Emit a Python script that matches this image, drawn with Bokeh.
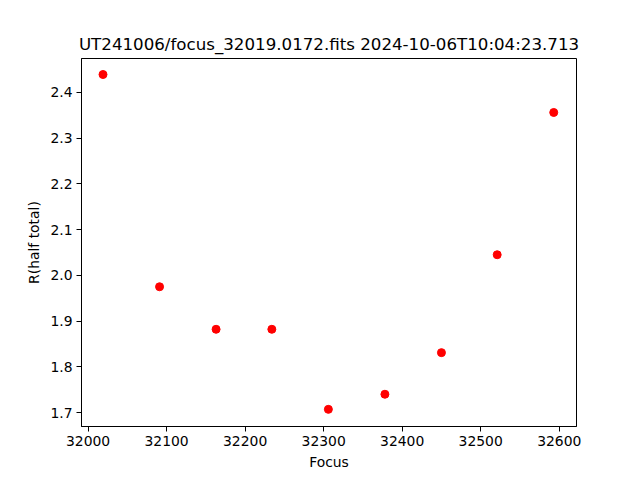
from bokeh.plotting import figure
from bokeh.models import Range1d, FixedTicker, NumeralTickFormatter
from bokeh.embed import file_html
from bokeh.resources import INLINE

focus = [32019, 32091, 32163, 32234, 32306, 32378, 32450, 32521, 32593]
r_half = [2.439, 1.975, 1.882, 1.882, 1.707, 1.740, 1.831, 2.045, 2.356]
x_ticks = [32000, 32100, 32200, 32300, 32400, 32500, 32600]
y_ticks = [1.7, 1.8, 1.9, 2.0, 2.1, 2.2, 2.3, 2.4]

FONT = "DejaVu Sans"

p = figure(width=632, height=472, output_backend="svg", toolbar_location=None,
           x_range=Range1d(31991.6, 32622), y_range=Range1d(1.6695, 2.474),
           title="UT241006/focus_32019.0172.fits 2024-10-06T10:04:23.713",
           min_border_left=81, min_border_right=56, min_border_top=58, min_border_bottom=45)

p.scatter(focus, r_half, size=8, color="red", line_color="red")

p.title.align = "center"
p.title.text_font = FONT
p.title.text_font_size = "16.67px"
p.title.text_font_style = "normal"
p.title.text_color = "black"

p.xgrid.visible = False
p.ygrid.visible = False
p.outline_line_color = "black"
p.outline_line_width = 1
p.outline_line_alpha = 1

p.xaxis.ticker = FixedTicker(ticks=x_ticks)
p.yaxis.ticker = FixedTicker(ticks=y_ticks)
p.yaxis.formatter = NumeralTickFormatter(format="0.0")
p.xaxis.axis_label = "Focus"
p.yaxis.axis_label = "R(half total)"

for ax in (p.xaxis, p.yaxis):
    ax.axis_label_text_font = FONT
    ax.axis_label_text_font_size = "13.9px"
    ax.axis_label_text_font_style = "normal"
    ax.axis_label_text_color = "black"
    ax.major_label_text_font = FONT
    ax.major_label_text_font_size = "13.9px"
    ax.major_label_text_color = "black"
    ax.major_tick_out = 5
    ax.major_tick_in = 0
    ax.minor_tick_out = 0
    ax.minor_tick_in = 0
    ax.axis_line_color = "black"
    ax.major_tick_line_color = "black"
    ax.axis_label_standoff = 5
    ax.major_label_standoff = 4

p.yaxis.major_label_orientation = "horizontal"

open("out.html", "w").write(file_html(p, INLINE))
